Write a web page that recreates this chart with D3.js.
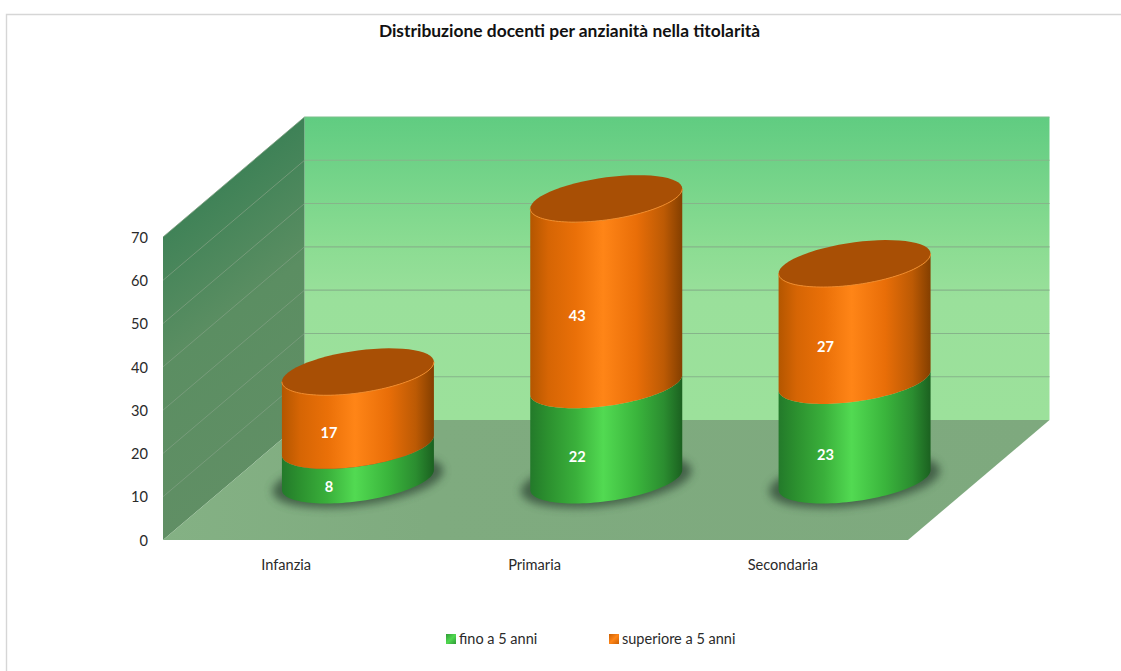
<!DOCTYPE html>
<html>
<head>
<meta charset="utf-8">
<script src="https://cdn.jsdelivr.net/npm/d3@7"></script>
<style>
  html, body { margin: 0; padding: 0; background: #fff; }
  svg { display: block; }
  text { font-family: Lato, "Open Sans", sans-serif; }
</style>
</head>
<body>
<svg id="chart" width="1121" height="671"></svg>
<script>
const chartTitle = "Distribuzione docenti per anzianità nella titolarità";
const categories = ["Infanzia", "Primaria", "Secondaria"];
const seriesNames = ["fino a 5 anni", "superiore a 5 anni"];
const finoA5 = [8, 22, 23];
const superioreA5 = [17, 43, 27];
const yTicks = [0, 10, 20, 30, 40, 50, 60, 70];

const svg = d3.select("#chart");

// Oblique projection: a point is (x along the front edge, value, depth 0..1)
const depthX = 141.5, depthY = -120;
const x = d3.scaleBand().domain(categories).range([163, 908]);
const y = d3.scaleLinear().domain([0, 70]).range([540, 237]);
const project = (px, value, depth) => [px + depth * depthX, y(value) + depth * depthY];
const poly = pts => "M" + pts.map(p => p.join(",")).join("L") + "Z";

// Gradients
const defs = svg.append("defs");
function gradient(id, stops, x1, y1, x2, y2) {
  const g = defs.append("linearGradient").attr("id", id)
    .attr("x1", x1).attr("y1", y1).attr("x2", x2).attr("y2", y2);
  stops.forEach(([o, c]) => g.append("stop").attr("offset", o).attr("stop-color", c));
}
gradient("backWall", [[0, "#60cc81"], [0.42, "#8bdc92"], [0.6, "#9ae09b"], [1, "#9ce19b"]], 0, 0, 0, 1);
gradient("sideWall", [[0, "#337a4e"], [0.25, "#3f8257"], [0.55, "#5b8e62"], [1, "#618f65"]], 0, 0, 0.25, 1);
gradient("floorFill", [[0, "#84b184"], [0.3, "#7fab7f"], [1, "#7ea97e"]], 0, 0, 1, 0);
gradient("sideGreen", [[0, "#237a2a"], [0.12, "#2c912f"], [0.3, "#3ab03b"], [0.48, "#52da52"], [0.7, "#3ab53c"], [0.88, "#2b8d30"], [1, "#1b6120"]], 0, 0, 1, 0);
gradient("sideOrange", [[0, "#b45600"], [0.12, "#d66504"], [0.3, "#ea7008"], [0.48, "#ff8517"], [0.7, "#e96e08"], [0.88, "#bc5a04"], [1, "#843f00"]], 0, 0, 1, 0);
gradient("keyGreen", [[0, "#2f9a36"], [0.5, "#50d850"], [1, "#2f9a36"]], 0, 0, 1, 1);
gradient("keyOrange", [[0, "#c96004"], [0.5, "#ff8517"], [1, "#c96004"]], 0, 0, 1, 1);
defs.append("filter").attr("id", "softShadow")
  .attr("x", "-20%").attr("y", "-40%").attr("width", "140%").attr("height", "180%")
  .append("feGaussianBlur").attr("stdDeviation", 4);

// Chart frame
svg.append("path").attr("d", "M1121,14.5H6.5V671")
  .attr("fill", "none").attr("stroke", "#d6d6d6").attr("stroke-width", 1.4);

svg.append("text").attr("x", 569.5).attr("y", 37).attr("text-anchor", "middle")
  .attr("font-size", 17.4).attr("font-weight", 700).attr("fill", "#111").text(chartTitle);

// Walls and floor
svg.append("path").attr("fill", "url(#backWall)").attr("d", poly([
  project(163, 0, 1), project(908, 0, 1), project(908, 70, 1), project(163, 70, 1)]));
svg.append("path").attr("fill", "url(#sideWall)").attr("d", poly([
  project(163, 0, 0), project(163, 0, 1), project(163, 70, 1), project(163, 70, 0)]));
svg.append("path").attr("fill", "url(#floorFill)").attr("d", poly([
  project(163, 0, 0), project(908, 0, 0), project(908, 0, 1), project(163, 0, 1)]));

// Gridlines on both walls
const gridValues = yTicks.filter(v => v > 0);
svg.append("g").selectAll("line").data(gridValues).join("line")
  .attr("x1", project(163, 0, 1)[0]).attr("x2", project(908, 0, 1)[0])
  .attr("y1", d => project(163, d, 1)[1]).attr("y2", d => project(163, d, 1)[1])
  .attr("stroke", d => d === 70 ? "#7cc08c" : "#86b48a").attr("stroke-width", 1.1);
svg.append("g").selectAll("line").data(gridValues).join("line")
  .attr("x1", 163).attr("x2", project(163, 0, 1)[0])
  .attr("y1", d => y(d)).attr("y2", d => project(163, d, 1)[1])
  .attr("stroke", "#7d9e80").attr("stroke-width", 0.8);

// Axes
const yAxis = svg.append("g").attr("transform", "translate(163,0.5)")
  .call(d3.axisLeft(y).tickValues(yTicks).tickSize(0).tickPadding(15));
const xAxis = svg.append("g").attr("transform", "translate(-1,540)")
  .call(d3.axisBottom(x).tickSize(0).tickPadding(19.5));
[yAxis, xAxis].forEach(a => {
  a.select(".domain").remove();
  a.selectAll("text").attr("font-size", 14.6).attr("fill", "#2a2a2a")
    .style("font-family", "Lato, 'Open Sans', sans-serif");
});

// Cylinders: ellipses are sheared so the right side rides higher than the left
const radiusX = 76, radiusY = 23.5, shear = -25 * Math.PI / 180;
const ellipsePoint = (cx, cy, t) => [cx + radiusX * Math.cos(t), cy + radiusY * Math.sin(t + shear)];
const arcPoints = (cx, cy, from, to) => d3.range(0, 61).map(i => ellipsePoint(cx, cy, from + (to - from) * i / 60));
const line = d3.line();
const fullEllipse = (cx, cy) => line(arcPoints(cx, cy, 0, 2 * Math.PI)) + "Z";
const sidePath = (cx, yLow, yHigh) => line([
  ...arcPoints(cx, yLow, 0, Math.PI),
  ...arcPoints(cx, yHigh, Math.PI, 0)
]) + "Z";

const bars = svg.append("g");
categories.forEach((cat, i) => {
  const [cx, baseY] = project(x(cat) + x.bandwidth() / 2, 0, 0.5);
  const level = v => project(0, v, 0.5)[1];
  const lower = finoA5[i], total = finoA5[i] + superioreA5[i];

  // Contact shadow on the floor
  bars.append("ellipse").attr("cx", cx).attr("cy", baseY + 1)
    .attr("rx", radiusX + 10).attr("ry", radiusY + 1)
    .attr("transform", `rotate(-7.5 ${cx} ${baseY + 1})`)
    .attr("fill", "#34503a").attr("opacity", 0.8).attr("filter", "url(#softShadow)");

  bars.append("path").attr("d", sidePath(cx, baseY, level(lower))).attr("fill", "url(#sideGreen)");
  bars.append("path").attr("d", sidePath(cx, level(lower), level(total))).attr("fill", "url(#sideOrange)");
  bars.append("path").attr("d", fullEllipse(cx, level(total))).attr("fill", "#a84f05");
  bars.append("path").attr("d", line(arcPoints(cx, level(total), 0, Math.PI)))
    .attr("fill", "none").attr("stroke", "#f58a2a").attr("stroke-width", 1);

  // Value labels sit on the cylinder's front face, left of its axis
  [[lower, lower / 2], [superioreA5[i], lower + superioreA5[i] / 2]].forEach(([value, mid]) => {
    bars.append("text").attr("x", cx - 29).attr("y", level(mid) + 24.5)
      .attr("dy", "0.35em").attr("text-anchor", "middle")
      .attr("font-size", 14.6).attr("font-weight", 700).attr("fill", "#fff").text(value);
  });
});

// Legend
const legendX = d3.scaleOrdinal().domain(seriesNames).range([446, 609]);
const legendFill = d3.scaleOrdinal().domain(seriesNames).range(["url(#keyGreen)", "url(#keyOrange)"]);
const legend = svg.append("g").selectAll("g").data(seriesNames).join("g")
  .attr("transform", d => `translate(${legendX(d)},634)`);
legend.append("rect").attr("width", 10).attr("height", 10).attr("fill", d => legendFill(d));
legend.append("text").attr("x", 13).attr("y", 5).attr("dy", "0.35em")
  .attr("font-size", 14.5).attr("fill", "#2a2a2a").text(d => d);
</script>
</body>
</html>
